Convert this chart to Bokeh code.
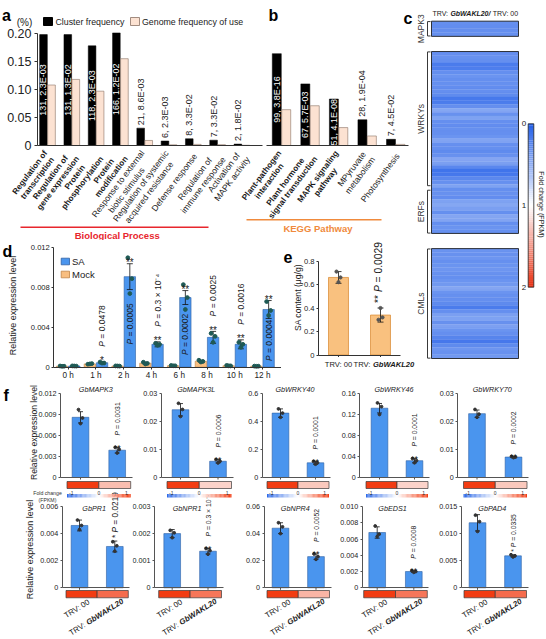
import numpy as np
from math import pi, cos, sin, radians
from bokeh.plotting import figure
from bokeh.models import Range1d, LinearAxis, FixedTicker, ColumnDataSource, LinearColorMapper
from bokeh.layouts import row, column
from bokeh.core.properties import value
from bokeh.embed import file_html
from bokeh.resources import INLINE

# ======================= DATA =======================
# (a) GO enrichment
go_terms = ["Regulation of\ntranscription", "Regulation of\ngene expression",
            "Protein\nphosphorylation", "Protein\nmodification",
            "Response to external\nbiotic stimulus", "Regulation of systemic\nacquired resistance",
            "Defense response", "Regulation of\nimmune response", "Activation of\nMAPK activity"]
go_cluster_freq = [0.198, 0.198, 0.178, 0.201, 0.031, 0.008, 0.012, 0.0095, 0.0025]
go_genome_freq = [0.108, 0.118, 0.097, 0.155, 0.009, 0.0012, 0.002, 0.0015, 0.0004]
go_count_p = ["131, 2.3E-03", "131, 1.3E-02", "118, 2.3E-03", "166, 1.2E-02", "21, 8.6E-03",
              "6, 2.3E-03", "8, 3.3E-02", "7, 3.3E-02", "2, 1.8E-02"]
# (b) KEGG enrichment
kegg_terms = ["Plant-pathogen\ninteraction", "Plant hormone\nsignal transduction",
              "MAPK signaling\npathway", "MPyruvate\nmetabolism", "Photosynthesis"]
kegg_cluster_freq = [0.164, 0.110, 0.083, 0.046, 0.011]
kegg_genome_freq = [0.064, 0.071, 0.032, 0.017, 0.002]
kegg_count_p = ["99, 3.8E-16", "67, 5.7E-03", "51, 4.1E-08", "28, 1.9E-04", "7, 4.5E-02"]
freq_ticks = [0, 0.05, 0.10, 0.15, 0.20]
freq_tick_labels = ["0", "0.05", "0.10", "0.15", "0.20"]
legend_a = ["Cluster frequency", "Genome frequency of use"]

# (c) heat map, fold change (FPKM) TRV:GbWAKL20 / TRV:00
hm_group_names = ["MAPK3", "WRKYs", "ERFs", "CMLs"]
hm_mapk3 = [0.30, 0.29, 0.30, 0.31]
hm_wrky = [0.30, 0.32, 0.30, 0.18, 0.20, 0.30, 0.33, 0.30, 0.31, 0.29, 0.30, 0.28,
           0.17, 0.19, 0.30, 0.45, 0.32, 0.42, 0.30, 0.29, 0.31, 0.30, 0.33, 0.43,
           0.31, 0.30, 0.28, 0.32, 0.44, 0.40, 0.25, 0.14, 0.16, 0.26, 0.31, 0.42]
hm_erf = [0.30, 0.32, 0.29, 0.42, 0.45, 0.40, 0.31, 0.44, 0.43, 0.30, 0.33, 0.31]
hm_cml = [0.33, 0.32, 0.34, 0.31, 0.33, 0.35, 0.32, 0.30, 0.33, 0.36, 0.44, 0.33, 0.31, 0.30,
          0.28, 0.18, 0.30, 0.40, 0.42, 0.32, 0.41, 0.33, 0.30, 0.24, 0.16, 0.28, 0.34, 0.32, 0.36]
hm_ticks = [0, 1, 2]

# (d) SA time course
time_points = ["0 h", "1 h", "2 h", "4 h", "6 h", "8 h", "10 h", "12 h"]
sa_mean = [0.00012, 0.00045, 0.0091, 0.0023, 0.0070, 0.0030, 0.0023, 0.0058]
sa_sd = [0.00002, 0.0001, 0.0013, 0.00025, 0.0007, 0.0006, 0.00045, 0.0009]
sa_reps = [[0.00013, 0.00011, 0.00012], [0.00052, 0.00042, 0.00041], [0.0110, 0.0089, 0.0074],
           [0.0024, 0.0023, 0.0022], [0.0083, 0.0070, 0.0058], [0.0034, 0.0031, 0.0025],
           [0.0025, 0.0023, 0.0020], [0.0066, 0.0057, 0.0052]]
mock_mean = [0.0001, 0.00033, 0.00012, 0.0004, 0.00015, 0.0006, 0.00015, 0.0001]
mock_sd = [0.00002, 0.00005, 0.00002, 0.0001, 0.00003, 0.0001, 0.00003, 0.00002]
mock_reps = [[0.00012, 0.0001, 0.00009], [0.0003, 0.00036, 0.00033], [0.00013, 0.00011, 0.00012],
             [0.0005, 0.00038, 0.00032], [0.00017, 0.00014, 0.00014], [0.0007, 0.00058, 0.00052],
             [0.00018, 0.00013, 0.00014], [0.00011, 0.0001, 0.00009]]
d_pval = ["", "0.0478", "0.0005", "0.3 × 10⁻⁴", "0.0002", "0.0025", "0.0016", "0.0004"]
d_star = ["", "*", "**", "**", "**", "**", "**", "**"]
d_ticks = [0, 0.004, 0.008, 0.012]
d_tick_labels = ["0", "0.004", "0.008", "0.012"]
legend_d = ["SA", "Mock"]

# (e) SA content
e_groups = ["TRV: 00", "TRV: ", "GbWAKL20"]
e_mean = [0.66, 0.34]
e_sd = [0.05, 0.06]
e_reps = [[0.71, 0.66, 0.62], [0.30, 0.32, 0.40]]
e_pval = "0.0029"
e_star = "**"
e_ticks = [0, 0.2, 0.4, 0.6, 0.8]
e_tick_labels = ["0", "0.2", "0.4", "0.6", "0.8"]

# (f) qRT-PCR
f_genes = ["GbMAPK3", "GbMAPK3L", "GbWRKY40", "GbWRKY46", "GbWRKY70",
           "GbPR1", "GbNPR1", "GbNPR4", "GbEDS1", "GbPAD4"]
f_trv00 = [0.0086, 0.0242, 0.46, 0.132, 0.0228, 0.0046, 0.0020, 0.044, 0.0068, 0.0120]
f_trv20 = [0.0039, 0.0058, 0.105, 0.032, 0.0073, 0.00305, 0.00135, 0.023, 0.0020, 0.0059]
f_sd00 = [0.0008, 0.0022, 0.03, 0.009, 0.0013, 0.0004, 0.00015, 0.004, 0.0007, 0.0015]
f_sd20 = [0.0004, 0.0006, 0.01, 0.004, 0.0002, 0.0004, 0.0001, 0.002, 0.0001, 0.0002]
f_rep00 = [[0.0097, 0.0085, 0.0077], [0.0265, 0.0243, 0.0218], [0.49, 0.46, 0.43],
           [0.142, 0.135, 0.120], [0.0243, 0.0226, 0.0215], [0.0050, 0.0046, 0.0043],
           [0.00212, 0.00203, 0.00185], [0.048, 0.045, 0.040], [0.0076, 0.0066, 0.0063],
           [0.0134, 0.0122, 0.0104]]
f_rep20 = [[0.0043, 0.0040, 0.0035], [0.0064, 0.0058, 0.0052], [0.115, 0.105, 0.095],
           [0.036, 0.032, 0.028], [0.0075, 0.0073, 0.0071], [0.0034, 0.0031, 0.0027],
           [0.00145, 0.00137, 0.00124], [0.025, 0.023, 0.021], [0.0021, 0.0020, 0.0019],
           [0.0061, 0.0059, 0.0057]]
f_pval = ["0.0031", "0.0006", "0.0001", "0.0001", "0.0002",
          "0.0219", "0.3 × 10⁻⁵", "0.0052", "0.0008", "0.0335"]
f_star = ["**", "**", "**", "**", "**", "*", "**", "**", "**", "*"]
f_fold00 = [1, 1, 1, 1, 1, 1, 1, 1, 1, 1]
f_fold20 = [0.33, 0.22, 0.28, 0.22, 0.28, 0.75, 0.70, 0.38, 0.70, 0.75]
f_ticks = [[0, 0.003, 0.006, 0.009, 0.012], [0, 0.01, 0.02, 0.03], [0, 0.2, 0.4, 0.6],
           [0, 0.04, 0.08, 0.12, 0.16], [0, 0.01, 0.02, 0.03], [0, 0.002, 0.004, 0.006],
           [0, 0.001, 0.002, 0.003], [0, 0.02, 0.04, 0.06], [0, 0.002, 0.004, 0.006, 0.008, 0.010],
           [0, 0.005, 0.010, 0.015]]
f_tick_labels = [["0", "0.003", "0.006", "0.009", "0.012"], ["0", "0.01", "0.02", "0.03"],
                 ["0", "0.2", "0.4", "0.6"], ["0", "0.04", "0.08", "0.12", "0.16"],
                 ["0", "0.01", "0.02", "0.03"], ["0", "0.002", "0.004", "0.006"],
                 ["0", "0.001", "0.002", "0.003"], ["0", "0.02", "0.04", "0.06"],
                 ["0", "0.002", "0.004", "0.006", "0.008", "0.010"], ["0", "0.005", "0.010", "0.015"]]
f_fold_ticks = ["-1", "0", "1"]

# ======================= STYLE =======================
FONT = "Liberation Sans"
INK = "#1a1a1a"
AX = "#333333"
PEACH = "#fce2d2"
PEACH_LINE = "#8a7264"
RED = "#e8262d"
ORANGE = "#f08a3c"
SA_FILL = "#4a95ee"
SA_LINE = "#2e5fa3"
MOCK_FILL = "#f8be80"
MOCK_LINE = "#c08445"
E_FILL = "#f9c17f"
E_LINE = "#dc913e"
D_DOT = "#1f5a55"
F_DOT = "#333333"
go_label_bold = [True, True, True, True, False, False, False, False, False]
kegg_label_bold = [True, True, True, False, False]
f_p_size = [6.8, 6.8, 6.8, 6.8, 6.8, 8.3, 6.8, 6.8, 6.8, 6.8]
f_star_inline = [False, False, False, False, False, True, False, False, False, True]


def bwr(n, blue, red):
    out = []
    for t in np.linspace(0, 1, n):
        if t < 0.5:
            a = t / 0.5
            c = [blue[i] + (255 - blue[i]) * a for i in range(3)]
        else:
            a = (t - 0.5) / 0.5
            c = [255 + (red[i] - 255) * a for i in range(3)]
        out.append("#%02x%02x%02x" % tuple(int(round(v)) for v in c))
    return out


HM_PAL = bwr(256, (35, 95, 232), (232, 48, 18))
F_PAL = bwr(256, (45, 105, 232), (242, 60, 18))

REG = {' ': .278, '*': .389, ',': .278, '-': .333, '.': .278, '/': .278, ':': .278, '=': .584,
       '(': .333, ')': .333, '%': .889, '×': .584, '⁻': .333, '⁴': .333, '⁵': .333,
       'A': .667, 'B': .667, 'C': .722, 'D': .722, 'E': .667, 'F': .611, 'G': .778, 'H': .722,
       'I': .278, 'K': .667, 'L': .556, 'M': .833, 'N': .722, 'O': .778, 'P': .667, 'R': .722,
       'S': .667, 'T': .611, 'V': .667, 'W': .944, 'Y': .667,
       'a': .556, 'b': .556, 'c': .5, 'd': .556, 'e': .556, 'f': .278, 'g': .556, 'h': .556,
       'i': .222, 'j': .222, 'k': .5, 'l': .222, 'm': .833, 'n': .556, 'o': .556, 'p': .556,
       'q': .556, 'r': .333, 's': .5, 't': .278, 'u': .556, 'v': .5, 'w': .722, 'x': .5,
       'y': .5, 'z': .5}
for _d in "0123456789":
    REG[_d] = .556
BOLD = {'A': .722, 'K': .722, 'L': .611, 'b': .611, 'G': .778, 'W': .944, 'M': .833, 'R': .722,
        'c': .556, 'g': .611, 'i': .278, 'l': .278, 'n': .611, 'o': .611, 'r': .389, 's': .556,
        't': .333, 'u': .611, 'h': .611, 'p': .611, 'y': .556, 'f': .333, 'd': .611, 'k': .556,
        'm': .889, 'v': .556, 'w': .778, 'x': .556}


def tw(s, size, bold=False):
    t = 0.0
    for ch in s:
        if bold and ch in BOLD:
            t += BOLD[ch]
        else:
            t += REG.get(ch, 0.556)
    return t * size


class Frame:
    """maps global page pixels to data values of one figure"""
    def __init__(self, ox, oy, w, h, xa, ya):
        self.ox, self.oy, self.w, self.h = ox, oy, w, h
        gx0, v0, gx1, v1 = xa
        self.sx = (v1 - v0) / (gx1 - gx0)
        self.x0 = v0 - gx0 * self.sx
        gy0, w0, gy1, w1 = ya
        self.sy = (w1 - w0) / (gy1 - gy0)
        self.y0 = w0 - gy0 * self.sy

    def X(self, gx): return self.x0 + gx * self.sx
    def Y(self, gy): return self.y0 + gy * self.sy
    def PX(self, v): return (v - self.x0) / self.sx
    def PY(self, v): return (v - self.y0) / self.sy
    def up(self, px): return -px * self.sy

    def xrange(self): return Range1d(self.X(self.ox), self.X(self.ox + self.w))
    def yrange(self): return Range1d(self.Y(self.oy + self.h), self.Y(self.oy))


def mkfig(F):
    p = figure(width=F.w, height=F.h, x_range=F.xrange(), y_range=F.yrange(),
               x_axis_location=None, y_axis_location=None, toolbar_location=None,
               output_backend="svg", title=None, min_border=0, min_border_left=0,
               min_border_right=0, min_border_top=0, min_border_bottom=0,
               outline_line_color=None, background_fill_color="white", border_fill_color="white")
    p.grid.visible = False
    return p


def T(p, x, y, s, size, color=INK, align="left", baseline="middle", angle=0.0,
      style="normal", xr=None, lh=None):
    kw = dict(text_font=value(FONT), text_font_size=value("%.1fpx" % size), text_color=color,
              text_align=align, text_baseline=baseline, angle=angle, text_font_style=style)
    if lh is not None:
        kw["text_line_height"] = lh
    if xr is not None:
        kw["x_range_name"] = xr
    p.text(x=[x], y=[y], text=[s], **kw)


def pieces(p, F, gx, gy, parts, size, ang, color=INK, baseline="middle"):
    ca, sa = cos(ang), sin(ang)
    x, y = gx, gy
    for s, st in parts:
        if s.strip():
            T(p, F.X(x), F.Y(y), s.strip(), size, color=color, align="left",
              baseline=baseline, angle=ang, style=st)
        adv = tw(s, size, bold="bold" in st)
        x += adv * ca
        y -= adv * sa


def yaxis(p, F, gx, ticks, labels, size, tick_out=2, standoff=2, color=AX):
    ax = LinearAxis(fixed_location=F.X(gx), bounds=(0, ticks[-1]),
                    ticker=FixedTicker(ticks=ticks, minor_ticks=[]),
                    major_label_overrides={t: l for t, l in zip(ticks, labels)},
                    major_label_text_font=FONT, major_label_text_font_size="%.1fpx" % size,
                    major_label_text_color="#222222", axis_line_color=color,
                    major_tick_line_color=color, major_tick_in=0, major_tick_out=int(tick_out),
                    minor_tick_line_color=None, major_label_standoff=int(standoff))
    p.add_layout(ax, "left")


def xaxis(p, x0, x1, ticks=None, labels=None, size=8, tick_out=2, standoff=2, color=AX, xr=None):
    kw = dict(fixed_location=0, bounds=(x0, x1),
              ticker=FixedTicker(ticks=list(ticks) if labels else [], minor_ticks=[]),
              axis_line_color=color, major_tick_line_color=color, major_tick_in=0,
              major_tick_out=int(tick_out), minor_tick_line_color=None, major_label_standoff=int(standoff),
              major_label_text_font=FONT, major_label_text_color="#222222",
              major_label_text_font_size="%.1fpx" % size)
    if labels:
        kw["major_label_overrides"] = {t: l for t, l in zip(ticks, labels)}
    if xr is not None:
        kw["x_range_name"] = xr
    p.add_layout(LinearAxis(**kw), "below")


def xticks(p, F, xs, length_px, color=AX):
    xs = list(xs)
    p.segment(x0=xs, y0=[0] * len(xs), x1=xs, y1=[-F.up(length_px)] * len(xs),
              line_color=color, line_width=1)


JIT = [-2.0, 2.0, 0.0]


def errbars(p, F, xs, means, sds, cap_px, color="#111111", lw=0.8):
    xs = np.asarray(xs, float)
    m = np.asarray(means, float)
    s = np.asarray(sds, float)
    cap = abs(F.sx) * cap_px
    p.segment(x0=xs, y0=m - s, x1=xs, y1=m + s, line_color=color, line_width=lw)
    p.segment(x0=xs - cap, y0=m + s, x1=xs + cap, y1=m + s, line_color=color, line_width=lw)
    p.segment(x0=xs - cap, y0=m - s, x1=xs + cap, y1=m - s, line_color=color, line_width=lw)


def dots(p, F, xs, reps, color, size):
    X, Y = [], []
    for x, r in zip(xs, reps):
        for j, v in enumerate(r):
            X.append(x + JIT[j % 3] * abs(F.sx))
            Y.append(v)
    p.scatter(x=X, y=Y, size=size, marker="circle", fill_color=color, line_color=color)


def cat_label(p, F, gx, gy, text, size, bold, ang, xr=None):
    lines = text.split("\n")
    maxw = max(tw(l, size, bold) for l in lines)
    cx = gx - cos(ang) * maxw / 2
    cy = gy + sin(ang) * maxw / 2
    T(p, F.X(cx), F.Y(cy), text, size, align="center", baseline="middle", angle=ang,
      style="bold" if bold else "normal", xr=xr, lh=1.05)


# ======================= PANELS a + b =======================
FA = Frame(0, 0, 415, 240, (47, 0, 71.3, 1), (145, 0, 33, 0.2))
FK = Frame(0, 0, 415, 240, (281, 0, 309.55, 1), (145, 0, 33, 0.2))
pab = mkfig(FA)
pab.extra_x_ranges = {"kegg": FK.xrange()}
BW, OFF = 0.315, 0.165
ANG = radians(53)

ia = np.arange(len(go_terms))
pab.vbar(x=ia - OFF, top=go_cluster_freq, width=BW, fill_color="black", line_color="black", line_width=0.5)
pab.vbar(x=ia + OFF, top=go_genome_freq, width=BW, fill_color=PEACH, line_color=PEACH_LINE, line_width=0.6)
ib = np.arange(len(kegg_terms))
pab.vbar(x=ib - OFF, top=kegg_cluster_freq, width=BW, fill_color="black", line_color="black",
         line_width=0.5, x_range_name="kegg")
pab.vbar(x=ib + OFF, top=kegg_genome_freq, width=BW, fill_color=PEACH, line_color=PEACH_LINE,
         line_width=0.6, x_range_name="kegg")

yaxis(pab, FA, 37, freq_ticks, freq_tick_labels, 12.5, tick_out=3, standoff=3)
xaxis(pab, FA.X(37), FA.X(262))
xaxis(pab, FK.X(266), FK.X(408), xr="kegg")

for i, (v, s) in enumerate(zip(go_cluster_freq, go_count_p)):
    if v > 0.07:
        T(pab, i - OFF, v / 2, s, 9, color="white", align="center", angle=pi / 2)
    else:
        T(pab, i - OFF, v + FA.up(3), s, 9, align="left", angle=pi / 2)
for i, (v, s) in enumerate(zip(kegg_cluster_freq, kegg_count_p)):
    if v > 0.07:
        T(pab, i - OFF, v / 2, s, 9, color="white", align="center", angle=pi / 2, xr="kegg")
    else:
        T(pab, i - OFF, v + FA.up(3), s, 9, align="left", angle=pi / 2, xr="kegg")

for i, t in enumerate(go_terms):
    cat_label(pab, FA, FA.PX(i) + 2, 154, t, 8.2 if go_label_bold[i] else 8.6, go_label_bold[i], ANG)
for i, t in enumerate(kegg_terms):
    cat_label(pab, FK, FK.PX(i) + 2, 154, t, 8.2 if kegg_label_bold[i] else 8.6, kegg_label_bold[i], ANG, xr="kegg")

# legend a
pab.quad(left=[FA.X(43)], right=[FA.X(52)], bottom=[FA.Y(25)], top=[FA.Y(17)],
         fill_color="black", line_color="black")
T(pab, FA.X(55), FA.Y(21.5), legend_a[0], 8.8)
pab.quad(left=[FA.X(130)], right=[FA.X(139)], bottom=[FA.Y(25)], top=[FA.Y(17)],
         fill_color=PEACH, line_color=PEACH_LINE, line_width=0.8)
T(pab, FA.X(141.5), FA.Y(21.5), legend_a[1], 8.8)
T(pab, FA.X(24), FA.Y(22), "(%)", 10, align="center")

# group lines
pab.segment(x0=[FA.X(20)], y0=[FA.Y(226.7)], x1=[FA.X(208)], y1=[FA.Y(226.7)], line_color=RED, line_width=1.6)
T(pab, FA.X(116.7), FA.Y(234.5), "Biological Process", 9.5, color=RED, align="center", style="bold")
pab.segment(x0=[FA.X(246)], y0=[FA.Y(219.3)], x1=[FA.X(381)], y1=[FA.Y(219.3)], line_color=ORANGE, line_width=1.6)
T(pab, FA.X(317.5), FA.Y(228.3), "KEGG Pathway", 9.5, color=ORANGE, align="center", style="bold")

T(pab, FA.X(1.5), FA.Y(15), "a", 16, style="bold", baseline="alphabetic", color="black")
T(pab, FA.X(268), FA.Y(15), "b", 16, style="bold", baseline="alphabetic", color="black")
T(pab, FA.X(403), FA.Y(18), "c", 16, style="bold", baseline="alphabetic", color="black")

# ======================= PANEL d =======================
FD = Frame(0, 240, 281, 140, (67.7, 0, 95.46, 1), (366.7, 0, 247.3, 0.012))
pd_ = mkfig(FD)
it = np.arange(len(time_points))
DW, DOFF = 0.41, 0.22
pd_.vbar(x=it - DOFF, top=mock_mean, width=DW, fill_color=MOCK_FILL, line_color=MOCK_LINE, line_width=0.6)
pd_.vbar(x=it + DOFF, top=sa_mean, width=DW, fill_color=SA_FILL, line_color=SA_LINE, line_width=0.6)
errbars(pd_, FD, it - DOFF, mock_mean, mock_sd, 2.5)
errbars(pd_, FD, it + DOFF, sa_mean, sa_sd, 3)
dots(pd_, FD, it - DOFF, mock_reps, D_DOT, 3.8)
dots(pd_, FD, it + DOFF, sa_reps, D_DOT, 3.8)
yaxis(pd_, FD, 53.3, d_ticks, d_tick_labels, 7.6, tick_out=2, standoff=2)
xaxis(pd_, FD.X(53.3), FD.X(283), ticks=list(it), labels=time_points, size=8.2, tick_out=2, standoff=2)

for i in range(len(time_points)):
    if not d_star[i]:
        continue
    xc = i + DOFF
    et = FD.PY(sa_mean[i] + sa_sd[i])
    sc = et - 7
    T(pd_, xc, FD.Y(sc + 0.58 * 10), d_star[i], 10, align="center", baseline="alphabetic")
    parts = [("P ", "italic"), ("= " + d_pval[i], "normal")]
    L = sum(tw(s, 8.5) for s, _ in parts)
    if sa_mean[i] > 0.005:
        start = FD.PY(sa_mean[i] / 2) + L / 2 + 2
    else:
        start = sc - 8
    pieces(pd_, FD, FD.PX(xc), start, parts, 8.5, pi / 2)

pd_.quad(left=[FD.X(60.7)], right=[FD.X(69)], bottom=[FD.Y(264.3)], top=[FD.Y(257.7)],
         fill_color=SA_FILL, line_color=SA_LINE, line_width=0.8)
T(pd_, FD.X(71.5), FD.Y(261.2), legend_d[0], 9.5)
pd_.quad(left=[FD.X(60.7)], right=[FD.X(69)], bottom=[FD.Y(277.3)], top=[FD.Y(270.7)],
         fill_color=MOCK_FILL, line_color=MOCK_LINE, line_width=0.8)
T(pd_, FD.X(71.5), FD.Y(274.2), legend_d[1], 9.5)
T(pd_, FD.X(12.5), FD.Y(305), "Relative expression level", 9, align="center", angle=pi / 2)
T(pd_, FD.X(2), FD.Y(250.5), "d", 16, style="bold", baseline="alphabetic", color="black")

# ======================= PANEL e =======================
FE = Frame(281, 240, 134, 140, (338, 0, 380, 1), (354.5, 0, 260.5, 0.8))
pe = mkfig(FE)
ie = np.arange(len(e_mean))
pe.vbar(x=ie, top=e_mean, width=0.476, fill_color=E_FILL, line_color=E_LINE, line_width=0.8)
errbars(pe, FE, ie, e_mean, e_sd, 3)
dots(pe, FE, ie, e_reps, "#555555", 3.2)
yaxis(pe, FE, 318, e_ticks, e_tick_labels, 7.6, tick_out=2, standoff=2)
xaxis(pe, FE.X(318), FE.X(400))
xticks(pe, FE, ie, 2)
T(pe, 0, FE.Y(364), e_groups[0], 7.6, align="center")
pieces(pe, FE, FE.PX(1) - 27, 364, [(e_groups[1], "normal"), (e_groups[2], "bold italic")], 7.6, 0)
et = FE.PY(e_mean[1] + e_sd[1])
pieces(pe, FE, FE.PX(1) - 2, et - 5, [(e_star + " ", "normal"), ("P ", "italic"), ("= " + e_pval, "normal")],
       10.3, pi / 2)
T(pe, FE.X(297.5), FE.Y(297), "SA content (μg/g)", 8.6, align="center", angle=pi / 2)
T(pe, FE.X(283), FE.Y(256), "e", 16, style="bold", baseline="alphabetic", color="black")

# ======================= PANEL c =======================
FC = Frame(415, 0, 131, 380, (431, 0, 518, 1), (20.7, 0, 24.49, -1))
pc = mkfig(FC)
blocks = [hm_mapk3, hm_wrky, hm_erf, hm_cml]
gap_rows = [0, 4, 0, 4]
starts = []
r = 0
for b, g in zip(blocks, gap_rows):
    r += g
    starts.append(r)
    r += len(b)
tops, bots, vals = [], [], []
for s0, b in zip(starts, blocks):
    for k, v in enumerate(b):
        tops.append(-(s0 + k))
        bots.append(-(s0 + k + 1))
        vals.append(v)
hm_mapper = LinearColorMapper(palette=HM_PAL, low=0, high=2)
pc.quad(left=0, right=1, top="top", bottom="bottom",
        source=ColumnDataSource(dict(top=tops, bottom=bots, v=vals)),
        fill_color={"field": "v", "transform": hm_mapper},
        line_color={"field": "v", "transform": hm_mapper}, line_width=0.3)
boxes = [(starts[0], starts[0] + len(hm_mapk3)), (starts[1], starts[2] + len(hm_erf)),
         (starts[3], starts[3] + len(hm_cml))]
pc.quad(left=[0] * 3, right=[1] * 3, top=[-a for a, b in boxes], bottom=[-b for a, b in boxes],
        fill_color=None, line_color="#222222", line_width=0.9)
spans = [(starts[0] + 0.1, starts[0] + len(hm_mapk3) - 0.1), (starts[1] + 0.1, starts[1] + len(hm_wrky) - 0.6),
         (starts[2] + 0.6, starts[2] + len(hm_erf) - 0.1), (starts[3] + 0.1, starts[3] + len(hm_cml) - 0.1)]
bx, btk = FC.X(427), FC.X(430)
pc.multi_line(xs=[[btk, bx, bx, btk] for _ in spans], ys=[[-a, -a, -b, -b] for a, b in spans],
              line_color="#222222", line_width=0.9)
for name, (a, b) in zip(hm_group_names, spans):
    T(pc, FC.X(420), -(a + b) / 2, name, 8.5, color="#333333", align="center", angle=pi / 2)
pieces(pc, FC, 432, 13, [("TRV: ", "normal"), ("GbWAKL20/ ", "bold italic"), ("TRV: 00", "normal")], 7, 0)
# colour key
g0, g1 = 123.3, 286.7
nstep = 80
edges = np.linspace(g0, g1, nstep + 1)
keyv = (np.arange(nstep) + 0.5) / nstep * 2
pc.quad(left=FC.X(527.7), right=FC.X(533.3), top=[FC.Y(e) for e in edges[:-1]],
        bottom=[FC.Y(e) for e in edges[1:]],
        fill_color=[HM_PAL[min(255, int(v / 2 * 256))] for v in keyv], line_color=None)
pc.quad(left=[FC.X(527.7)], right=[FC.X(533.3)], top=[FC.Y(g0)], bottom=[FC.Y(g1)],
        fill_color=None, line_color="#222222", line_width=0.8)
for tv in hm_ticks:
    T(pc, FC.X(525.8), FC.Y(g0 + tv / 2 * (g1 - g0)), str(tv), 8, align="right")
T(pc, FC.X(540.5), FC.Y(204), "Fold change (FPKM)", 7.2, align="center", angle=-pi / 2)

# ======================= PANEL f =======================
R1 = dict(oy=380, h=109, cols=[(0, 137), (137, 103), (240, 98), (338, 97), (435, 111)],
          axis=[60, 160.7, 261.7, 359.3, 457.3], c0=[80, 180, 280, 379, 476.5],
          c1=[116.7, 217.5, 315, 414, 513], zero=477, top=393, title_y=389, fold=(481, 488))
R2 = dict(oy=489, h=150, cols=[(0, 132), (132, 106), (238, 97), (335, 99), (434, 112)],
          axis=[61.7, 154, 263.5, 361.7, 460.7], c0=[79, 171.7, 280, 376.7, 477],
          c1=[114.3, 207.5, 315.5, 413.3, 512.5], zero=587.3, top=506, title_y=507.5, fold=(590, 597.3))
fold_mapper = LinearColorMapper(palette=F_PAL, low=-1, high=1)
ANG2 = radians(32)
XL = 7.8
ffigs = []
for k in range(len(f_genes)):
    R = R1 if k < 5 else R2
    j = k % 5
    ox, w = R["cols"][j]
    c0, c1, axx = R["c0"][j], R["c1"][j], R["axis"][j]
    F = Frame(ox, R["oy"], w, R["h"], (c0, 0, c1, 1), (R["zero"], 0, R["top"], f_ticks[k][-1]))
    p = mkfig(F)
    bwid = 16.7 / (c1 - c0)
    p.vbar(x=[0, 1], top=[f_trv00[k], f_trv20[k]], width=bwid, fill_color=SA_FILL,
           line_color=SA_LINE, line_width=0.6)
    errbars(p, F, [0, 1], [f_trv00[k], f_trv20[k]], [f_sd00[k], f_sd20[k]], 2.5)
    dots(p, F, [0, 1], [f_rep00[k], f_rep20[k]], F_DOT, 2.8)
    yaxis(p, F, axx, f_ticks[k], f_tick_labels[k], 7.2, tick_out=2, standoff=2, color="#555555")
    xaxis(p, F.X(axx), F.X(c1 + 15), color="#555555")
    xticks(p, F, [0, 1], 2, color="#555555")
    T(p, F.X((c0 + c1) / 2 - 3), F.Y(R["title_y"]), f_genes[k], 7.2, style="italic", align="center")
    et = F.PY(f_trv20[k] + f_sd20[k])
    fs = f_p_size[k]
    if f_star_inline[k]:
        pieces(p, F, c1, et - 3, [(f_star[k] + " ", "normal"), ("P ", "italic"), ("= " + f_pval[k], "normal")],
               fs, pi / 2)
    else:
        sc = et - 5
        T(p, 1, F.Y(sc + 0.58 * 9), f_star[k], 9, align="center", baseline="alphabetic")
        pieces(p, F, c1, sc - 7, [("P ", "italic"), ("= " + f_pval[k], "normal")], fs, pi / 2)
    mid = (c0 + c1) / 2
    fy0, fy1 = R["fold"]
    p.quad(left="l", right="r", top="t", bottom="b",
           source=ColumnDataSource(dict(l=[F.X(c0 - 13.5), F.X(mid)], r=[F.X(mid), F.X(c1 + 13.5)],
                                        t=[F.Y(fy0)] * 2, b=[F.Y(fy1)] * 2, v=[f_fold00[k], f_fold20[k]])),
           fill_color={"field": "v", "transform": fold_mapper}, line_color="#3a3a3a", line_width=0.7)
    if k >= 5:
        # colour key under the plot above
        a0 = R1["c0"][j] - 13.5
        a1 = R1["c1"][j] + 13.5
        nn = 50
        ed = np.linspace(a0, a1, nn + 1)
        kv = (np.arange(nn) + 0.5) / nn
        p.quad(left=[F.X(e) for e in ed[:-1]], right=[F.X(e) for e in ed[1:]],
               top=F.Y(493.5), bottom=F.Y(497),
               fill_color=[F_PAL[min(255, int(v * 256))] for v in kv], line_color=None)
        for lab, gx, al in zip(f_fold_ticks, [a0 + 2, (a0 + a1) / 2, a1 - 3],
                               ["left", "center", "right"]):
            T(p, F.X(gx), F.Y(492.8), lab, 5, color="#333333", align=al, baseline="alphabetic")
        # rotated x labels
        T(p, F.X(c0 + 7), F.Y(597), e_groups[0], XL, align="right", baseline="top", angle=ANG2)
        L2 = tw(e_groups[1], XL) + tw(e_groups[2], XL, True)
        sx_ = c1 + 6 - L2 * cos(ANG2)
        sy_ = 596 + L2 * sin(ANG2)
        pieces(p, F, sx_, sy_, [(e_groups[1], "normal"), (e_groups[2], "bold italic")], XL, ANG2,
               baseline="top")
    if k == 0:
        T(p, F.X(3), F.Y(395), "f", 16, style="bold", baseline="alphabetic", color="black")
        T(p, F.X(33), F.Y(432), "Relative expression level", 8.6, align="center", angle=pi / 2)
    if k == 5:
        T(p, F.X(29), F.Y(549), "Relative expression level", 9, align="center", angle=pi / 2)
        T(p, F.X(47), F.Y(496), "Fold change\n(FPKM)", 5.2, color="#333333", align="center", lh=1.1)
    ffigs.append(p)

top_block = row(column(pab, row(pd_, pe)), pc)
layout = column(top_block, row(*ffigs[:5]), row(*ffigs[5:]))
open("out.html", "w").write(file_html(layout, INLINE))
